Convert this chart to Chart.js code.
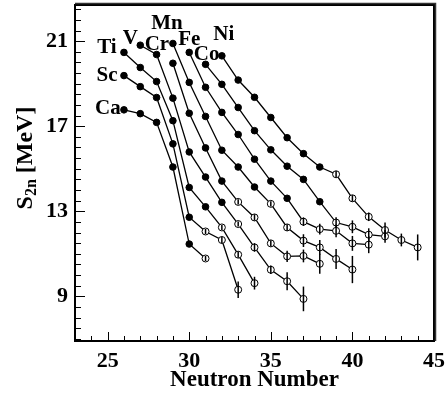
<!DOCTYPE html>
<html>
<head>
<meta charset="utf-8">
<script src="https://cdn.jsdelivr.net/npm/chart.js@4.4.1/dist/chart.umd.min.js"></script>
<style>
    html, body { margin: 0; padding: 0; background: #fff; }
</style>
</head>
<body>
<canvas id="graficoS2n" width="445" height="400"></canvas>
<script>
const elements = ['Ca', 'Sc', 'Ti', 'V', 'Cr', 'Mn', 'Fe', 'Co', 'Ni'];
// neutron number of the first point of each chain
const firstN = [26, 26, 26, 27, 29, 29, 30, 31, 32];
// from this neutron number on, the points are drawn open
const openFrom = [31, 31, 32, 33, 33, 35, 37, 39, 39];

// S2n [MeV], one value per neutron number starting at firstN
const s2nCa = [17.77, 17.59, 17.18, 15.08, 11.46, 10.78];
const s2nSc = [19.38, 18.86, 18.35, 16.17, 12.72, 12.05, 11.65, 9.31];
const s2nTi = [20.47, 19.76, 19.10, 17.26, 14.12, 13.21, 12.24, 10.96, 9.62];
const s2nV = [20.81, 20.37, 18.32, 15.79, 14.61, 13.42, 12.40, 11.30, 10.25, 9.71, 8.88];
const s2nCr = [19.96, 17.61, 15.98, 14.42, 13.44, 12.71, 11.49, 10.88, 10.90, 10.53];
const s2nMn = [20.89, 19.06, 17.46, 15.87, 15.08, 14.14, 13.35, 12.24, 11.62, 11.30, 10.76, 10.26];
const s2nFe = [20.47, 18.83, 17.65, 16.61, 15.45, 14.42, 13.61, 12.51, 12.16, 12.08, 11.49, 11.43];
const s2nCo = [19.91, 18.97, 17.88, 16.79, 15.89, 15.12, 14.50, 13.45, 12.47, 12.27, 11.90, 11.82];
const s2nNi = [20.31, 19.17, 18.36, 17.41, 16.46, 15.71, 15.08, 14.74, 13.61, 12.74, 12.12, 11.65, 11.30];

// uncertainties [MeV]
const errCa = [0, 0, 0, 0, 0, 0.12];
const errSc = [0, 0, 0, 0, 0, 0.12, 0.15, 0.39];
const errTi = [0, 0, 0, 0, 0, 0, 0.12, 0.15, 0.30];
const errV = [0, 0, 0, 0, 0, 0, 0.12, 0.20, 0.20, 0.42, 0.58];
const errCr = [0, 0, 0, 0, 0.12, 0.15, 0.15, 0.26, 0.30, 0.47];
const errMn = [0, 0, 0, 0, 0, 0, 0.12, 0.15, 0.30, 0.35, 0.47, 0.64];
const errFe = [0, 0, 0, 0, 0, 0, 0, 0.20, 0.25, 0.30, 0.35, 0.40];
const errCo = [0, 0, 0, 0, 0, 0, 0, 0, 0.25, 0.30, 0.30, 0.30];
const errNi = [0, 0, 0, 0, 0, 0, 0, 0.15, 0.15, 0.20, 0.35, 0.30, 0.61];

const xTicks = [25, 30, 35, 40, 45];
const yTicks = [9, 13, 17, 21];

const seriesValues = [s2nCa, s2nSc, s2nTi, s2nV, s2nCr, s2nMn, s2nFe, s2nCo, s2nNi];
const seriesErrors = [errCa, errSc, errTi, errV, errCr, errMn, errFe, errCo, errNi];

// where each element name sits, in pixels from the first point of its chain
const labelOffsets = [[-16, -1], [-17, 0], [-17, -5], [-10, -7], [-16, -19], [-6, -20], [0, -13], [1, -10], [2, -21]];

const serif = 'Liberation Serif, Times New Roman, serif';

function buildPoints(values, startN) {
    return values.map((v, i) => ({ x: startN + i, y: v }));
}

const datasets = elements.map((name, k) => {
    const points = buildPoints(seriesValues[k], firstN[k]);
    return {
        label: name,
        data: points,
        showLine: true,
        borderColor: '#000',
        borderWidth: 1.3,
        pointRadius: points.map(p => p.x >= openFrom[k] ? 3.5 : 3.3),
        pointBackgroundColor: points.map(p => p.x >= openFrom[k] ? '#fff' : '#000'),
        pointBorderColor: '#000',
        pointBorderWidth: 1,
        errors: seriesErrors[k]
    };
});

const errorBars = {
    id: 'errorBars',
    afterDatasetsDraw(chart) {
        const { ctx, scales: { x, y } } = chart;
        ctx.save();
        ctx.strokeStyle = '#000';
        ctx.lineWidth = 1.5;
        chart.data.datasets.forEach(ds => {
            ds.data.forEach((p, i) => {
                const e = ds.errors[i];
                if (!e) return;
                const px = x.getPixelForValue(p.x);
                ctx.beginPath();
                ctx.moveTo(px, y.getPixelForValue(p.y - e));
                ctx.lineTo(px, y.getPixelForValue(p.y + e));
                ctx.stroke();
            });
        });
        ctx.restore();
    }
};

const elementLabels = {
    id: 'elementLabels',
    afterDatasetsDraw(chart) {
        const { ctx } = chart;
        ctx.save();
        ctx.fillStyle = '#000';
        ctx.font = 'bold 21px ' + serif;
        ctx.textAlign = 'center';
        ctx.textBaseline = 'middle';
        elements.forEach((name, k) => {
            const first = chart.getDatasetMeta(k).data[0];
            ctx.fillText(name, first.x + labelOffsets[k][0], first.y + labelOffsets[k][1]);
        });
        ctx.restore();
    }
};

const frame = {
    id: 'frame',
    afterDraw(chart) {
        const { ctx, chartArea: a, scales: { x, y } } = chart;
        ctx.save();
        ctx.strokeStyle = '#000';
        ctx.lineWidth = 1;
        ctx.beginPath();
        for (let v = 7; v <= 22.5; v += 0.5) {
            const py = Math.round(y.getPixelForValue(v)) + 0.5;
            ctx.moveTo(a.left, py);
            ctx.lineTo(a.left + (yTicks.includes(v) ? 10 : 6), py);
        }
        for (let n = 24; n <= 44; n++) {
            const px = Math.round(x.getPixelForValue(n)) + 0.5;
            ctx.moveTo(px, a.bottom);
            ctx.lineTo(px, a.bottom - (xTicks.includes(n) ? 9 : 5));
        }
        ctx.stroke();
        ctx.lineWidth = 2;
        ctx.strokeRect(a.left, a.top, a.right - a.left, a.bottom - a.top);
        ctx.strokeStyle = '#333';
        ctx.lineWidth = 1.5;
        ctx.beginPath();
        ctx.moveTo(a.left, a.top - 1.5);
        ctx.lineTo(a.right + 1.5, a.top - 1.5);
        ctx.lineTo(a.right + 1.5, a.bottom);
        ctx.stroke();
        ctx.restore();
    }
};

// y title with the subscript, S2n [MeV]
const yTitle = {
    id: 'yTitle',
    afterDraw(chart) {
        const { ctx } = chart;
        const big = 'bold 24px ' + serif;
        const small = 'bold 16px ' + serif;
        ctx.save();
        ctx.fillStyle = '#000';
        ctx.font = big;
        const wS = ctx.measureText('S').width;
        const wRest = ctx.measureText(' [MeV]').width;
        ctx.font = small;
        const wSub = ctx.measureText('2n').width;
        const total = wS + wSub + wRest;
        ctx.translate(32, 158);
        ctx.rotate(-Math.PI / 2);
        ctx.textBaseline = 'alphabetic';
        let cx = -total / 2;
        ctx.font = big;
        ctx.fillText('S', cx, 0);
        cx += wS;
        ctx.font = small;
        ctx.fillText('2n', cx, 4);
        cx += wSub;
        ctx.font = big;
        ctx.fillText(' [MeV]', cx, 0);
        ctx.restore();
    }
};

function createChart(ctx) {
    return new Chart(ctx, {
        type: 'scatter',
        data: { datasets },
        options: {
            responsive: false,
            animation: false,
            layout: { padding: { top: 3, right: 11, left: 0, bottom: 0 } },
            plugins: {
                legend: { display: false },
                tooltip: { enabled: false }
            },
            scales: {
                x: {
                    type: 'linear',
                    min: 23,
                    max: 45,
                    grid: { display: false, drawTicks: false },
                    border: { display: false },
                    afterBuildTicks: s => { s.ticks = xTicks.map(v => ({ value: v })); },
                    afterFit: s => {
                        s.height = 59;
                        s.paddingLeft = 0;
                        s.paddingRight = 0;
                    },
                    ticks: {
                        color: '#000',
                        padding: 7,
                        maxRotation: 0,
                        font: { family: serif, weight: 'bold', size: 22 }
                    },
                    title: {
                        display: true,
                        text: 'Neutron Number',
                        color: '#000',
                        padding: { top: 0, bottom: 6 },
                        font: { family: serif, weight: 'bold', size: 23 }
                    }
                },
                y: {
                    type: 'linear',
                    min: 6.9,
                    max: 22.7,
                    grid: { display: false, drawTicks: false },
                    border: { display: false },
                    afterBuildTicks: s => { s.ticks = yTicks.map(v => ({ value: v })); },
                    afterFit: s => {
                        s.width = 75;
                        s.paddingTop = 0;
                        s.paddingBottom = 0;
                    },
                    ticks: {
                        color: '#000',
                        padding: 7,
                        font: { family: serif, weight: 'bold', size: 22 }
                    }
                }
            }
        },
        plugins: [errorBars, elementLabels, frame, yTitle]
    });
}

createChart(document.getElementById('graficoS2n').getContext('2d'));
</script>
</body>
</html>
